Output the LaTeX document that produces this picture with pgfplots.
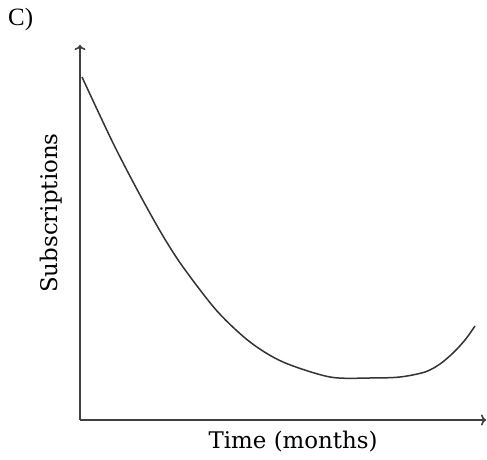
\documentclass[border=0pt]{standalone}
\usepackage{fontspec}
\setmainfont{DejaVu Serif}
\newfontfamily\capfont{Liberation Serif}
\usepackage{pgfplots}
\pgfplotsset{compat=1.18}
\usetikzlibrary{arrows.meta}

\begin{document}
\begin{tikzpicture}
\begin{axis}[
    scale only axis,
    width=406bp, height=375bp,
    xmin=0, xmax=406,
    ymin=0, ymax=375,
    axis lines=left,
    axis line style={line width=1.6bp, color=black!75, -{To[length=5bp,width=11bp]}},
    xtick=\empty, ytick=\empty,
    clip=false,
    xlabel={Time (months)},
    ylabel={Subscriptions},
    xlabel style={font=\fontsize{23}{27}\selectfont, at={(axis description cs:0.525,0)}, anchor=north, yshift=-8bp},
    ylabel style={font=\fontsize{23}{27}\selectfont, at={(axis description cs:0,0.552)}, anchor=south, yshift=14bp},
]
\addplot[smooth, tension=0.5, line width=1.5bp, color=black!80] coordinates {
    (2,343) (33,277) (60,225) (83,184) (103,153) (137,109) (170,78)
    (203,58) (250,43) (290,42) (320,43) (345,48) (360,56)
    (373,67) (385,80) (395,94)
};
\coordinate (o) at (axis cs:0,0);
\end{axis}
\node[anchor=north west, font=\capfont\fontsize{25}{29}\selectfont, inner sep=0pt] at ([shift={(-72bp,412bp)}]o) {C)};
\path[use as bounding box] ([shift={(-80bp,-40bp)}]o) rectangle ([shift={(407bp,420bp)}]o);
\end{tikzpicture}
\end{document}
